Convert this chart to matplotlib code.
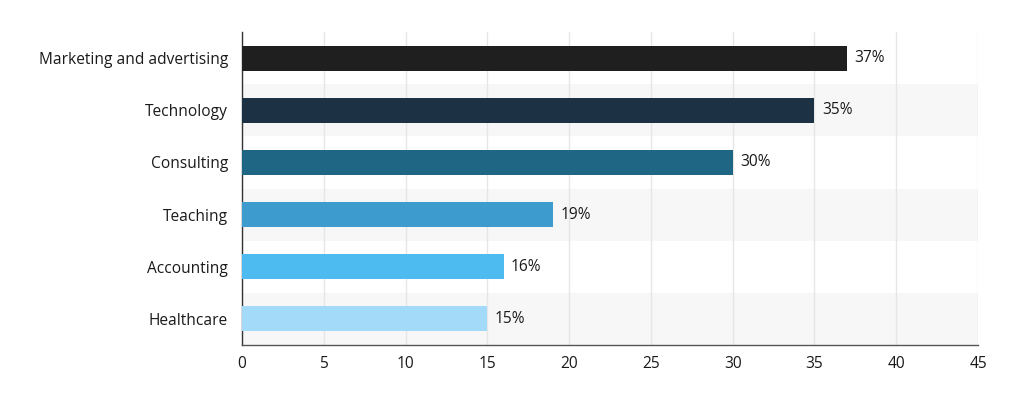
import matplotlib
matplotlib.use("Agg")
import matplotlib.pyplot as plt

categories = ["Marketing and advertising", "Technology", "Consulting", "Teaching", "Accounting", "Healthcare"]
values = [37, 35, 30, 19, 16, 15]
colors = ["#1f1f1f", "#1c3144", "#1f6584", "#3d9bcd", "#4dbbf0", "#a3daf9"]
xticks = [0, 5, 10, 15, 20, 25, 30, 35, 40, 45]

plt.rcParams['font.family'] = ['Open Sans', 'DejaVu Sans']

fig = plt.figure(figsize=(10.25, 3.98), dpi=100)
ax = fig.add_axes([242/1025, 1-345/398, (978-242)/1025, (345-32)/398])

n = len(categories)
ypos = list(range(n))
for i in ypos:
    if i % 2 == 1:
        ax.axhspan(i-0.5, i+0.5, color="#f7f7f7", zorder=0, lw=0)

ax.barh(ypos, values, height=0.48, color=colors, zorder=3)
for i, v in zip(ypos, values):
    ax.text(v + 0.45, i, f"{v}%", va="center", ha="left", fontsize=11.2,
            color="#1a1a1a", weight="medium", zorder=4)

ax.set_xlim(0, 45)
ax.set_ylim(n-0.5, -0.5)
ax.set_yticks(ypos)
ax.set_yticklabels(categories, fontsize=11.2, color="#1a1a1a", weight="medium")
ax.set_xticks(xticks)
ax.set_xticklabels([str(t) for t in xticks], fontsize=11.2, color="#1a1a1a", weight="medium")
ax.tick_params(axis="y", length=0, pad=10)
ax.tick_params(axis="x", length=0, pad=8)
ax.grid(axis="x", color="#e6e6e6", lw=1, zorder=1)
ax.set_axisbelow(True)
for s in ["top", "right"]:
    ax.spines[s].set_visible(False)
ax.spines["left"].set_color("#333333")
ax.spines["bottom"].set_color("#555555")
ax.spines["left"].set_linewidth(1)
ax.spines["bottom"].set_linewidth(1)

fig.savefig("out.png", dpi=100)
